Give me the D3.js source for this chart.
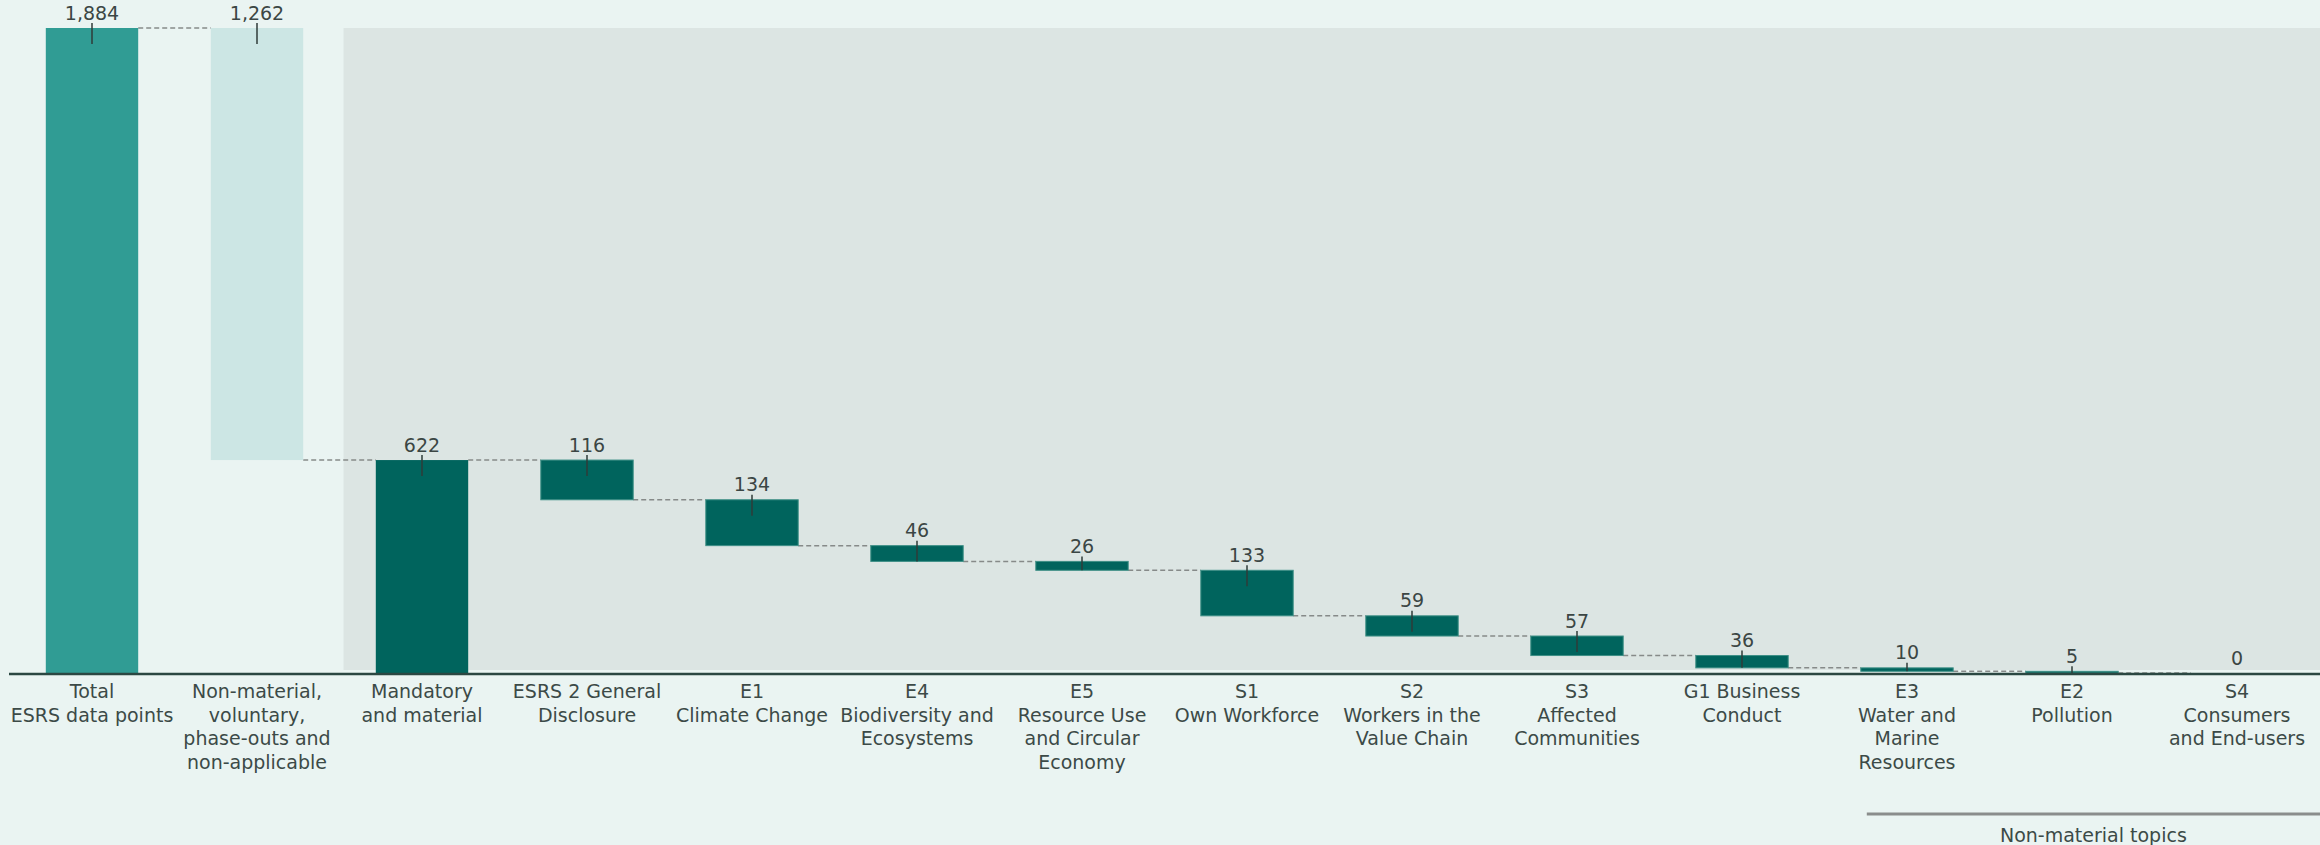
<!DOCTYPE html>
<html>
<head>
<meta charset="utf-8">
<script src="https://cdnjs.cloudflare.com/ajax/libs/d3/7.8.5/d3.min.js"></script>
<style>
  html, body { margin: 0; padding: 0; background: #EAF4F2; }
  svg { display: block; }
  text { font-family: Verdana, "DejaVu Sans", sans-serif; }
</style>
</head>
<body>
<svg id="chart" width="2320" height="845"></svg>
<script>
// ---- data ----
const categories = [
  "Total ESRS data points",
  "Non-material, voluntary, phase-outs and non-applicable",
  "Mandatory and material",
  "ESRS 2 General Disclosure",
  "E1 Climate Change",
  "E4 Biodiversity and Ecosystems",
  "E5 Resource Use and Circular Economy",
  "S1 Own Workforce",
  "S2 Workers in the Value Chain",
  "S3 Affected Communities",
  "G1 Business Conduct",
  "E3 Water and Marine Resources",
  "E2 Pollution",
  "S4 Consumers and End-users"
];
const labelLines = [
  ["Total", "ESRS data points"],
  ["Non-material,", "voluntary,", "phase-outs and", "non-applicable"],
  ["Mandatory", "and material"],
  ["ESRS 2 General", "Disclosure"],
  ["E1", "Climate Change"],
  ["E4", "Biodiversity and", "Ecosystems"],
  ["E5", "Resource Use", "and Circular", "Economy"],
  ["S1", "Own Workforce"],
  ["S2", "Workers in the", "Value Chain"],
  ["S3", "Affected", "Communities"],
  ["G1 Business", "Conduct"],
  ["E3", "Water and", "Marine", "Resources"],
  ["E2", "Pollution"],
  ["S4", "Consumers", "and End-users"]
];
const values = [1884, 1262, 622, 116, 134, 46, 26, 133, 59, 57, 36, 10, 5, 0];
const kinds = ["total", "excluded", "subtotal", "topic", "topic", "topic", "topic", "topic", "topic", "topic", "topic", "topic", "topic", "topic"];
const groupLabel = "Non-material topics";
const groupStart = "E3 Water and Marine Resources";

// ---- build waterfall segments ----
const segs = [];
let running = 0;
categories.forEach((c, i) => {
  const v = values[i], k = kinds[i];
  let lo, hi, end;
  if (k === "total") { lo = 0; hi = v; running = v; end = v; }
  else if (k === "excluded") { hi = running; lo = running - v; running = lo; end = lo; }
  else if (k === "subtotal") { lo = 0; hi = v; running = v; end = v; }
  else { hi = running; lo = running - v; running = lo; end = lo; }
  segs.push({cat: c, v, k, lo, hi, end, i});
});

const colors = { total: "#309C94", excluded: "#CCE6E4", subtotal: "#00645D", topic: "#00645D" };

const W = 2320, H = 845;
const svg = d3.select("#chart");

const x = d3.scaleBand().domain(categories).range([9.5, 2319.5]).paddingInner(0.44).paddingOuter(0.22);
const y = d3.scaleLinear().domain([0, 1884]).range([673, 28]);
const bw = x.bandwidth();

// background
svg.append("rect").attr("x", 0).attr("y", 0).attr("width", W).attr("height", H).attr("fill", "#EAF4F2");

// panel behind material-topic bars
const panelX = x(categories[2]) - (x.step() - bw) / 2 + 4;
svg.append("rect")
  .attr("x", panelX).attr("y", y(1884))
  .attr("width", W - panelX).attr("height", y(0) - 3 - y(1884))
  .attr("fill", "#DCE5E3");

// connectors
const conn = svg.append("g");
for (let j = 0; j < segs.length - 1; j++) {
  const s = segs[j];
  conn.append("line")
    .attr("x1", x(s.cat) + bw).attr("x2", x(segs[j + 1].cat))
    .attr("y1", y(s.end)).attr("y2", y(s.end))
    .attr("stroke", "#868a89").attr("stroke-width", 1.5)
    .attr("stroke-dasharray", "5,3");
}

// bars
svg.append("g").selectAll("rect").data(segs).join("rect")
  .attr("x", d => x(d.cat))
  .attr("y", d => y(d.hi))
  .attr("width", bw)
  .attr("height", d => Math.max(0, y(d.lo) - y(d.hi)))
  .attr("fill", d => colors[d.k])
  .attr("stroke", d => d.k === "topic" ? "#3d8f86" : "none")
  .attr("stroke-width", 1);

// value ticks
svg.append("g").selectAll("line").data(segs.filter(d => d.v > 0)).join("line")
  .attr("x1", d => x(d.cat) + bw / 2).attr("x2", d => x(d.cat) + bw / 2)
  .attr("y1", d => y(d.hi) - 5)
  .attr("y2", d => Math.min(y(d.hi) + 16, y(d.lo)))
  .attr("stroke", "#2f3b39").attr("stroke-width", 1.5);

// value labels
const fmt = d3.format(",");
svg.append("g").selectAll("text").data(segs).join("text")
  .attr("x", d => x(d.cat) + bw / 2)
  .attr("y", d => y(d.hi) - 8.5)
  .attr("text-anchor", "middle")
  .attr("font-size", 19)
  .attr("fill", "#3b4644")
  .text(d => fmt(d.v));

// axis line
svg.append("line")
  .attr("x1", 9).attr("x2", W)
  .attr("y1", y(0) + 1).attr("y2", y(0) + 1)
  .attr("stroke", "#2b4742").attr("stroke-width", 2.5);

// category labels
const lab = svg.append("g").selectAll("text").data(categories).join("text")
  .attr("x", d => x(d) + bw / 2)
  .attr("y", 698)
  .attr("text-anchor", "middle")
  .attr("font-size", 19)
  .attr("fill", "#3c4a47");
lab.each(function(d, i) {
  const t = d3.select(this);
  labelLines[i].forEach((ln, k) => {
    t.append("tspan").attr("x", x(d) + bw / 2).attr("dy", k === 0 ? 0 : 23.5).text(ln);
  });
});

// group bracket
const gx1 = x(groupStart) + 6;
svg.append("line")
  .attr("x1", gx1).attr("x2", W)
  .attr("y1", 814).attr("y2", 814)
  .attr("stroke", "#8a8d8c").attr("stroke-width", 3);
svg.append("text")
  .attr("x", (gx1 + W) / 2).attr("y", 842)
  .attr("text-anchor", "middle").attr("font-size", 19)
  .attr("fill", "#3c4a47")
  .text(groupLabel);
</script>
</body>
</html>
